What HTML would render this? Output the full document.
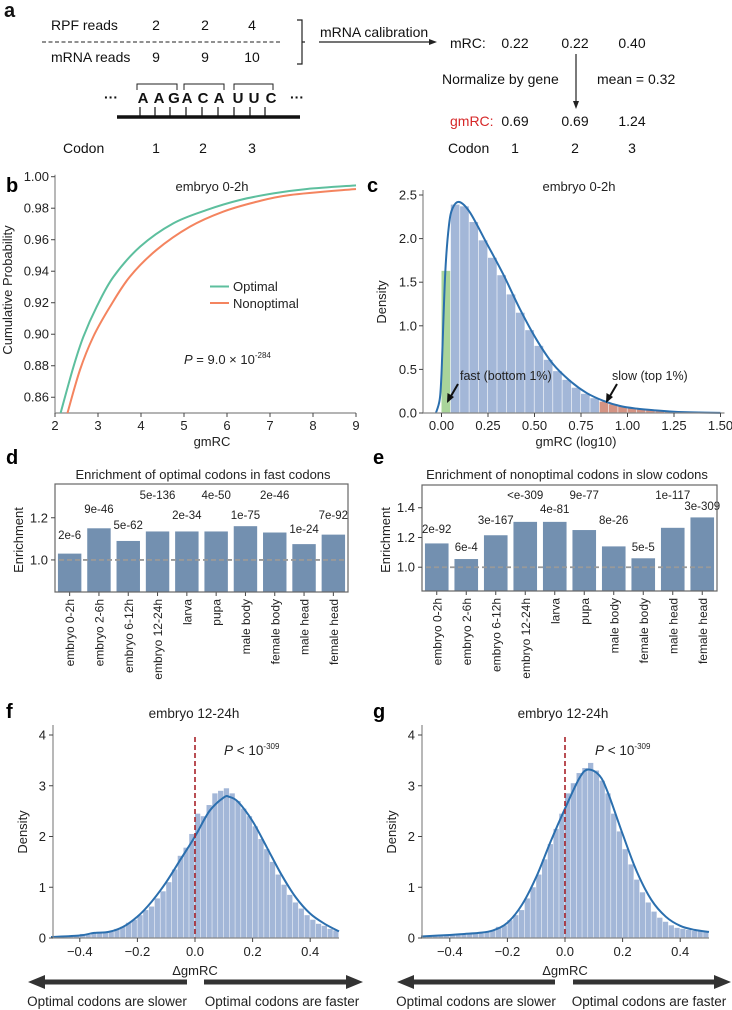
<!DOCTYPE html>
<html><head><meta charset="utf-8"><style>
body{margin:0;background:#fff;}
svg{display:block;font-family:"Liberation Sans",Arial,sans-serif;}
</style></head><body>
<svg id="fig" width="732" height="1010" viewBox="0 0 732 1010" xmlns="http://www.w3.org/2000/svg">
<!-- Panel a -->
<g id="panel-a" font-size="14" fill="#111">
  <text x="4" y="17" font-size="20" font-weight="bold">a</text>
  <text x="51" y="30">RPF reads</text>
  <text x="156" y="30" text-anchor="middle">2</text>
  <text x="205" y="30" text-anchor="middle">2</text>
  <text x="252" y="30" text-anchor="middle">4</text>
  <line x1="42" y1="42" x2="280" y2="42" stroke="#222" stroke-dasharray="4,2.5"/>
  <text x="51" y="62">mRNA reads</text>
  <text x="156" y="62" text-anchor="middle">9</text>
  <text x="205" y="62" text-anchor="middle">9</text>
  <text x="252" y="62" text-anchor="middle">10</text>
  <path d="M297 20 H302 V64 H297 M302 42 H305" fill="none" stroke="#222" stroke-width="1.2"/>
  <text x="320" y="37">mRNA calibration</text>
  <line x1="319" y1="42" x2="432" y2="42" stroke="#222" stroke-width="1.2"/>
  <polygon points="437,42 429,39 429,45" fill="#222"/>
  <text x="450" y="48">mRC:</text>
  <text x="515" y="48" text-anchor="middle">0.22</text>
  <text x="575" y="48" text-anchor="middle">0.22</text>
  <text x="632" y="48" text-anchor="middle">0.40</text>
  <line x1="576" y1="54" x2="576" y2="102" stroke="#222" stroke-width="1.2"/>
  <polygon points="576,109 573,101 579,101" fill="#222"/>
  <text x="442" y="84">Normalize by gene</text>
  <text x="597" y="84">mean = 0.32</text>
  <text x="450" y="126" fill="#d62728">gmRC:</text>
  <text x="515" y="126" text-anchor="middle">0.69</text>
  <text x="575" y="126" text-anchor="middle">0.69</text>
  <text x="632" y="126" text-anchor="middle">1.24</text>
  <text x="448" y="153">Codon</text>
  <text x="515" y="153" text-anchor="middle">1</text>
  <text x="575" y="153" text-anchor="middle">2</text>
  <text x="632" y="153" text-anchor="middle">3</text>
  <text x="63" y="153">Codon</text>
  <text x="156" y="153" text-anchor="middle">1</text>
  <text x="203" y="153" text-anchor="middle">2</text>
  <text x="252" y="153" text-anchor="middle">3</text>
  <text x="104" y="102" font-weight="bold">···</text>
  <text x="290" y="102" font-weight="bold">···</text>
  <g font-weight="bold" font-size="15" text-anchor="middle">
    <text x="143" y="103">A</text><text x="159" y="103">A</text><text x="174" y="103">G</text>
    <text x="187" y="103">A</text><text x="203" y="103">C</text><text x="219" y="103">A</text>
    <text x="238" y="103">U</text><text x="254" y="103">U</text><text x="271" y="103">C</text>
  </g>
  <path d="M137 90 V84 H177 V90 M184 90 V84 H224 V90 M234 90 V84 H273 V90" fill="none" stroke="#222"/>
  <line x1="117" y1="117" x2="300" y2="117" stroke="#111" stroke-width="3.5"/>
  <path d="M140 107V117M155 107V117M170 107V117M186 107V117M202 107V117M218 107V117M234 107V117M250 107V117M265 107V117" stroke="#111" stroke-width="1.2"/>
</g>
<g id="panel-b"></g>
<g id="panel-c"></g>
<g id="panel-d"></g>
<g id="panel-e"></g>
<g id="panel-f"></g>
<g id="panel-g"></g>
</svg>
<script>
// ---- Panel b data ----
const optX = [2.13,2.43,2.66,2.97,3.36,3.98,4.75,5.53,6.30,7.08,7.86,9.0];
const optY = [0.850,0.8794,0.8984,0.9175,0.9365,0.9556,0.9704,0.9789,0.9852,0.9894,0.9922,0.9945];
const nonX = [2.29,2.58,2.89,3.28,3.74,4.36,5.14,5.91,6.69,7.47,9.0];
const nonY = [0.850,0.8773,0.8984,0.9175,0.9365,0.9535,0.9683,0.9778,0.9841,0.9884,0.9922];
const bXTicks = [2,3,4,5,6,7,8,9];
const bYTicks = [0.86,0.88,0.90,0.92,0.94,0.96,0.98,1.00];
// ---- Panel c data ----
const cBinStart = [0,0.05,0.10,0.15,0.20,0.25,0.30,0.35,0.40,0.45,0.50,0.55,0.60,0.65,0.70,0.75,0.80,0.85,0.90,0.95,1.00,1.05,1.10,1.15,1.20,1.25,1.30,1.35,1.40,1.45];
const cBinHeight = [1.63,2.39,2.37,2.19,1.98,1.78,1.58,1.36,1.15,0.95,0.77,0.61,0.48,0.38,0.29,0.22,0.17,0.13,0.10,0.075,0.055,0.04,0.03,0.022,0.016,0.011,0.007,0.005,0.003,0.002];
const cBinGroup = ['fast','mid','mid','mid','mid','mid','mid','mid','mid','mid','mid','mid','mid','mid','mid','mid','mid','slow','slow','slow','slow','slow','slow','slow','slow','slow','slow','slow','slow','slow'];
const cKdeX = [-0.03,-0.01,0,0.02,0.04,0.06,0.096,0.153,0.242,0.332,0.422,0.51,0.6,0.69,0.78,0.87,0.96,1.05,1.15,1.25,1.35,1.5];
const cKdeY = [0,0.15,0.45,1.6,2.15,2.35,2.42,2.30,1.95,1.59,1.19,0.845,0.56,0.37,0.23,0.14,0.08,0.05,0.03,0.015,0.007,0.002];
const cXTicks = [0,0.25,0.5,0.75,1.0,1.25,1.5];
const cXTickLabels = ['0.00','0.25','0.50','0.75','1.00','1.25','1.50'];
const cYTicks = [0,0.5,1.0,1.5,2.0,2.5];
// ---- Panels d / e data ----
const tissues = ['embryo 0-2h','embryo 2-6h','embryo 6-12h','embryo 12-24h','larva','pupa','male body','female body','male head','female head'];
const dValues = [1.03,1.15,1.09,1.135,1.135,1.135,1.16,1.13,1.075,1.12];
const dPvals = ['2e-6','9e-46','5e-62','5e-136','2e-34','4e-50','1e-75','2e-46','1e-24','7e-92'];
const dPvalY = [539,513,529,499,519,499,519,499,533,519];
const eValues = [1.16,1.055,1.215,1.305,1.305,1.25,1.14,1.06,1.265,1.335];
const ePvals = ['2e-92','6e-4','3e-167','<e-309','4e-81','9e-77','8e-26','5e-5','1e-117','3e-309'];
const ePvalY = [533,551,524,499,513,499,524,551,499,510];
const dYTicks = [1.0,1.2];
const eYTicks = [1.0,1.2,1.4];
// ---- Panel f data ----
const fHist = [0.02,0.02,0.03,0.03,0.05,0.08,0.06,0.10,0.12,0.10,0.12,0.18,0.22,0.30,0.36,0.45,0.55,0.62,0.78,0.92,1.10,1.35,1.62,1.78,2.05,2.45,2.40,2.62,2.85,2.90,2.95,2.85,2.70,2.55,2.40,2.20,1.95,1.75,1.50,1.25,1.05,0.85,0.70,0.58,0.45,0.36,0.28,0.24,0.18,0.15];
const fKdeX = [-0.5,-0.4,-0.35,-0.3,-0.25,-0.2,-0.15,-0.1,-0.05,0,0.05,0.1,0.12,0.15,0.2,0.25,0.3,0.35,0.4,0.45,0.5];
const fKdeY = [0.02,0.05,0.1,0.12,0.22,0.42,0.72,1.1,1.55,2.0,2.5,2.77,2.78,2.68,2.3,1.78,1.25,0.8,0.48,0.28,0.13];
// ---- Panel g data ----
const gHist = [0.03,0.04,0.05,0.05,0.06,0.06,0.07,0.08,0.08,0.10,0.09,0.12,0.15,0.22,0.25,0.35,0.45,0.55,0.78,1.00,1.25,1.55,1.85,2.15,2.45,2.85,3.05,3.25,3.35,3.45,3.30,3.10,2.85,2.45,2.10,1.75,1.45,1.15,0.90,0.70,0.52,0.40,0.32,0.25,0.20,0.18,0.16,0.14,0.13,0.14];
const gKdeX = [-0.5,-0.4,-0.35,-0.3,-0.25,-0.2,-0.15,-0.1,-0.05,0,0.05,0.08,0.12,0.15,0.2,0.25,0.3,0.35,0.4,0.45,0.5];
const gKdeY = [0.03,0.06,0.08,0.1,0.15,0.3,0.65,1.2,1.9,2.55,3.15,3.32,3.2,2.85,2.05,1.3,0.75,0.42,0.24,0.16,0.12];
const histBinStart = -0.5, histBinWidth = 0.02;
const fgXTicks = [-0.4,-0.2,0,0.2,0.4];
const fgXTickLabels = ['−0.4','−0.2','0.0','0.2','0.4'];
const fgYTicks = [0,1,2,3,4];

const NS = 'http://www.w3.org/2000/svg';
function mk(tag, attrs, parent, txt){
  const el = document.createElementNS(NS, tag);
  for (const k in attrs) el.setAttribute(k, attrs[k]);
  if (txt !== undefined) el.textContent = txt;
  parent.appendChild(el);
  return el;
}
function smoothPath(pts){
  let d = 'M' + pts[0][0].toFixed(2) + ' ' + pts[0][1].toFixed(2);
  for (let i = 0; i < pts.length - 1; i++){
    const p0 = pts[i-1] || pts[i], p1 = pts[i], p2 = pts[i+1], p3 = pts[i+2] || p2;
    const c1 = [p1[0] + (p2[0]-p0[0])/6, p1[1] + (p2[1]-p0[1])/6];
    const c2 = [p2[0] - (p3[0]-p1[0])/6, p2[1] - (p3[1]-p1[1])/6];
    d += ' C' + c1.join(' ') + ' ' + c2.join(' ') + ' ' + p2.join(' ');
  }
  return d;
}

// ================= Panel b =================
(function(){
  const g = document.getElementById('panel-b');
  const L = 55, R = 356, T = 176.7, B = 413;
  const x = v => L + (v - 2) / 7 * (R - L);
  const y = v => B - (v - 0.85) / 0.15 * (B - T);
  let t = mk('text', {x: 6, y: 192, 'font-size': 20, 'font-weight': 'bold'}, g, 'b');
  
  
  const ax = mk('path', {d: `M${L} ${T-2} V${B} H${R}`, fill: 'none', stroke: '#888', 'stroke-width': 1.2}, g);
  
  
  bXTicks.forEach(v => {
    const tk = mk('line', {x1: x(v), x2: x(v), y1: B, y2: B + 4, stroke: '#444'}, g);
    
    
    const tl = mk('text', {x: x(v), y: B + 17, 'text-anchor': 'middle', 'font-size': 13, fill: '#222'}, g, String(v));
    
    
  });
  bYTicks.forEach(v => {
    const tk = mk('line', {x1: L - 4, x2: L, y1: y(v), y2: y(v), stroke: '#444'}, g);
    
    
    const tl = mk('text', {x: L - 6, y: y(v) + 4.5, 'text-anchor': 'end', 'font-size': 13, fill: '#222'}, g, v.toFixed(2));
    
    
  });
  t = mk('text', {x: 212, y: 446, 'text-anchor': 'middle', 'font-size': 13, fill: '#222'}, g, 'gmRC');
  
  
  t = mk('text', {x: 0, y: 0, 'text-anchor': 'middle', 'font-size': 13, fill: '#222', transform: 'translate(12,290) rotate(-90)'}, g, 'Cumulative Probability');
  
  
  t = mk('text', {x: 212, y: 191, 'text-anchor': 'middle', 'font-size': 13, fill: '#222'}, g, 'embryo 0-2h');
  
  
  const clip = mk('clipPath', {id: 'clipB'}, g);
  mk('rect', {x: L, y: T - 4, width: R - L + 2, height: B - T + 4}, clip);
  const l1 = mk('path', {d: smoothPath(optX.map((v, i) => [x(v), y(optY[i])])), fill: 'none', stroke: '#5dbf9e', 'stroke-width': 2, 'clip-path': 'url(#clipB)'}, g);
  
  
  const l2 = mk('path', {d: smoothPath(nonX.map((v, i) => [x(v), y(nonY[i])])), fill: 'none', stroke: '#f4845f', 'stroke-width': 2, 'clip-path': 'url(#clipB)'}, g);
  
  
  const lg1 = mk('line', {x1: 210, x2: 229, y1: 286.5, y2: 286.5, stroke: '#5dbf9e', 'stroke-width': 2}, g);
  
  
  t = mk('text', {x: 233, y: 291, 'font-size': 13, fill: '#222'}, g, 'Optimal');
  
  
  const lg2 = mk('line', {x1: 210, x2: 229, y1: 303, y2: 303, stroke: '#f4845f', 'stroke-width': 2}, g);
  
  
  t = mk('text', {x: 233, y: 308, 'font-size': 13, fill: '#222'}, g, 'Nonoptimal');
  
  
  t = mk('text', {x: 184, y: 364, 'font-size': 13, fill: '#222'}, g);
  
  
  t.innerHTML = '<tspan font-style="italic">P</tspan> = 9.0 × 10<tspan font-size="8" dy="-6">-284</tspan>';
})();

// ================= Panel c =================
(function(){
  const g = document.getElementById('panel-c');
  const L = 423, B = 413, x0 = 441.5, ux = 186, uy = 87.2;
  const x = v => x0 + v * ux;
  const y = v => B - v * uy;
  let t = mk('text', {x: 367, y: 192, 'font-size': 20, 'font-weight': 'bold'}, g, 'c');
  
  
  const colors = {fast: '#a9d49a', mid: '#a3b7d8', slow: '#d49383'};
  cBinStart.forEach((s, i) => {
    const r = mk('rect', {x: x(s), y: y(cBinHeight[i]), width: 0.05 * ux - 0.6, height: cBinHeight[i] * uy, fill: colors[cBinGroup[i]]}, g);
    
    
  });
  const kd = mk('path', {d: smoothPath(cKdeX.map((v, i) => [x(v), y(cKdeY[i])])), fill: 'none', stroke: '#2b6fae', 'stroke-width': 2}, g);
  
  
  const ax = mk('path', {d: `M${L} 190 V${B} H${x(1.5)+4}`, fill: 'none', stroke: '#888', 'stroke-width': 1.2}, g);
  
  
  cXTicks.forEach((v, i) => {
    const tk = mk('line', {x1: x(v), x2: x(v), y1: B, y2: B + 4, stroke: '#444'}, g);
    
    
    const tl = mk('text', {x: x(v), y: B + 17, 'text-anchor': 'middle', 'font-size': 13, fill: '#222'}, g, cXTickLabels[i]);
    
    
  });
  cYTicks.forEach(v => {
    const tk = mk('line', {x1: L - 4, x2: L, y1: y(v), y2: y(v), stroke: '#444'}, g);
    
    
    const tl = mk('text', {x: L - 6, y: y(v) + 4.5, 'text-anchor': 'end', 'font-size': 13, fill: '#222'}, g, v.toFixed(1));
    
    
  });
  t = mk('text', {x: 576, y: 446, 'text-anchor': 'middle', 'font-size': 13, fill: '#222'}, g, 'gmRC (log10)');
  
  
  t = mk('text', {x: 0, y: 0, 'text-anchor': 'middle', 'font-size': 13, fill: '#222', transform: 'translate(386,302) rotate(-90)'}, g, 'Density');
  
  
  t = mk('text', {x: 579, y: 191, 'text-anchor': 'middle', 'font-size': 13, fill: '#222'}, g, 'embryo 0-2h');
  
  
  t = mk('text', {x: 460, y: 380, 'font-size': 12.5, fill: '#222'}, g, 'fast (bottom 1%)');
  
  
  t = mk('text', {x: 612, y: 380, 'font-size': 12.5, fill: '#222'}, g, 'slow (top 1%)');
  
  
  const a1 = mk('path', {d: 'M458 384 L451 396', stroke: '#111', 'stroke-width': 2}, g);
  
  
  const a1h = mk('polygon', {points: '447,403 447.5,393 454,397', fill: '#111'}, g);
  
  
  const a2 = mk('path', {d: 'M617 384 L610 396', stroke: '#111', 'stroke-width': 2}, g);
  
  
  const a2h = mk('polygon', {points: '606,403 606.5,393 613,397', fill: '#111'}, g);
  
  
})();

// ================= Panels d / e =================
function barPanel(id, cfg){
  const g = document.getElementById(id);
  const {L, R, T, B, ymin, ymax, values, pvals, pY, ticks, title, titleX, label, labelX} = cfg;
  const y = v => B - (v - ymin) / (ymax - ymin) * (B - T);
  const step = (R - L) / values.length;
  const xc = i => L + step * (i + 0.5);
  let t = mk('text', {x: labelX, y: 464, 'font-size': 20, 'font-weight': 'bold'}, g, label);
  
  
  t = mk('text', {x: titleX, y: 479, 'text-anchor': 'middle', 'font-size': 13, fill: '#222'}, g, title);
  
  
  values.forEach((v, i) => {
    const bw = step * 0.8;
    const r = mk('rect', {x: xc(i) - bw / 2, y: y(v), width: bw, height: B - y(v), fill: '#7390b0'}, g);
    
    
    const pl = mk('text', {x: xc(i), y: pY[i], 'text-anchor': 'middle', 'font-size': 11.5, fill: '#222'}, g, pvals[i]);
    
    
    const tk = mk('line', {x1: xc(i), x2: xc(i), y1: B, y2: B + 4, stroke: '#444'}, g);
    
    
    const tl = mk('text', {x: 0, y: 0, 'text-anchor': 'end', 'font-size': 12, fill: '#222', transform: `translate(${xc(i) + 4.5},${B + 7}) rotate(-90)`}, g, tissues[i]);
    
    
  });
  const dl = mk('line', {x1: L + 4, x2: R - 4, y1: y(1), y2: y(1), stroke: '#999', 'stroke-width': 1.8, 'stroke-dasharray': '5,3'}, g);
  
  
  const box = mk('rect', {x: L, y: T, width: R - L, height: B - T, fill: 'none', stroke: '#666', 'stroke-width': 1.2}, g);
  
  
  ticks.forEach(v => {
    const tk = mk('line', {x1: L - 4, x2: L, y1: y(v), y2: y(v), stroke: '#444'}, g);
    
    
    const tl = mk('text', {x: L - 7, y: y(v) + 4.5, 'text-anchor': 'end', 'font-size': 13, fill: '#222'}, g, v.toFixed(1));
    
    
  });
  t = mk('text', {x: 0, y: 0, 'text-anchor': 'middle', 'font-size': 13, fill: '#222', transform: `translate(${L - 32},540) rotate(-90)`}, g, 'Enrichment');
  
  
}
barPanel('panel-d', {L: 55, R: 348, T: 484, B: 592, ymin: 0.848, ymax: 1.36, values: dValues, pvals: dPvals, pY: dPvalY, ticks: dYTicks, title: 'Enrichment of optimal codons in fast codons', titleX: 203, label: 'd', labelX: 6});
barPanel('panel-e', {L: 422, R: 717, T: 485, B: 591, ymin: 0.84, ymax: 1.553, values: eValues, pvals: ePvals, pY: ePvalY, ticks: eYTicks, title: 'Enrichment of nonoptimal codons in slow codons', titleX: 567, label: 'e', labelX: 373});

// ================= Panels f / g =================
function deltaPanel(id, cfg){
  const g = document.getElementById(id);
  const {L, x0, hist, kx, ky, label, labelX, titleX, pX, arrowL, arrowR, txtL, txtR} = cfg;
  const B = 938, uy = 50.75, ux = 288;
  const x = v => x0 + v * ux;
  const y = v => B - v * uy;
  let t = mk('text', {x: labelX, y: 718, 'font-size': 20, 'font-weight': 'bold'}, g, label);
  
  
  t = mk('text', {x: titleX, y: 718, 'text-anchor': 'middle', 'font-size': 13.5, fill: '#222'}, g, 'embryo 12-24h');
  
  
  hist.forEach((h, i) => {
    const s = histBinStart + i * histBinWidth;
    const r = mk('rect', {x: x(s), y: y(h), width: histBinWidth * ux - 0.5, height: h * uy, fill: '#a3b7d8'}, g);
    
    
  });
  const kd = mk('path', {d: smoothPath(kx.map((v, i) => [x(v), y(ky[i])])), fill: 'none', stroke: '#2b6fae', 'stroke-width': 2}, g);
  
  
  const dl = mk('line', {x1: x(0), x2: x(0), y1: 737, y2: B, stroke: '#a8232a', 'stroke-width': 1.6, 'stroke-dasharray': '5,3'}, g);
  
  
  const ax = mk('path', {d: `M${L} 725 V${B} H${x(0.5)}`, fill: 'none', stroke: '#888', 'stroke-width': 1.2}, g);
  
  
  fgXTicks.forEach((v, i) => {
    const tk = mk('line', {x1: x(v), x2: x(v), y1: B, y2: B + 4, stroke: '#444'}, g);
    
    
    const tl = mk('text', {x: x(v), y: B + 18, 'text-anchor': 'middle', 'font-size': 13, fill: '#222'}, g, fgXTickLabels[i]);
    
    
  });
  fgYTicks.forEach(v => {
    const tk = mk('line', {x1: L - 4, x2: L, y1: y(v), y2: y(v), stroke: '#444'}, g);
    
    
    const tl = mk('text', {x: L - 7, y: y(v) + 4.5, 'text-anchor': 'end', 'font-size': 13, fill: '#222'}, g, String(v));
    
    
  });
  t = mk('text', {x: 0, y: 0, 'text-anchor': 'middle', 'font-size': 13, fill: '#222', transform: `translate(${L - 26},832) rotate(-90)`}, g, 'Density');
  
  
  t = mk('text', {x: x(0), y: 975, 'text-anchor': 'middle', 'font-size': 13, fill: '#222'}, g, 'ΔgmRC');
  
  
  t = mk('text', {x: pX, y: 755, 'font-size': 13.5, fill: '#222'}, g);
  
  
  t.innerHTML = '<tspan font-style="italic">P</tspan> &lt; 10<tspan font-size="8" dy="-6">-309</tspan>';
  const la = mk('polygon', {points: `${arrowL[0]},979.5 ${arrowL[1]+17},979.5 ${arrowL[1]+17},975 ${arrowL[1]},982 ${arrowL[1]+17},989 ${arrowL[1]+17},984.5 ${arrowL[0]},984.5`, fill: '#333'}, g);
  
  
  const ra = mk('polygon', {points: `${arrowR[0]},979.5 ${arrowR[1]-17},979.5 ${arrowR[1]-17},975 ${arrowR[1]},982 ${arrowR[1]-17},989 ${arrowR[1]-17},984.5 ${arrowR[0]},984.5`, fill: '#333'}, g);
  
  
  t = mk('text', {x: txtL, y: 1006, 'text-anchor': 'middle', 'font-size': 13.5, fill: '#222'}, g, 'Optimal codons are slower');
  
  
  t = mk('text', {x: txtR, y: 1006, 'text-anchor': 'middle', 'font-size': 13.5, fill: '#222'}, g, 'Optimal codons are faster');
  
  
}
deltaPanel('panel-f', {L: 53, x0: 195, hist: fHist, kx: fKdeX, ky: fKdeY, label: 'f', labelX: 6, titleX: 194, pX: 224, arrowL: [187, 28], arrowR: [204, 363], txtL: 107, txtR: 282});
deltaPanel('panel-g', {L: 422, x0: 565, hist: gHist, kx: gKdeX, ky: gKdeY, label: 'g', labelX: 373, titleX: 563, pX: 595, arrowL: [555, 397], arrowR: [573, 731], txtL: 476, txtR: 649});
</script>
</body></html>
